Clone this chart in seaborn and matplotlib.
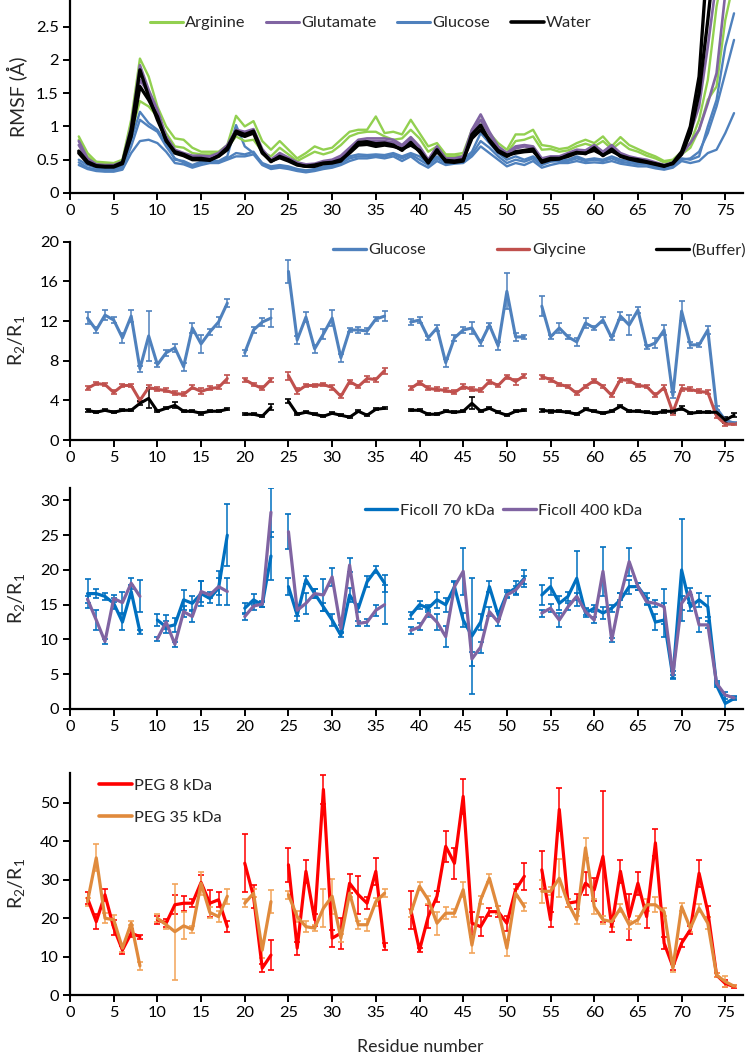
import numpy as np
import pandas as pd
import matplotlib
matplotlib.use('Agg')
import matplotlib.pyplot as plt
import seaborn as sns
from matplotlib.lines import Line2D

residues = list(range(1, 77))
N = None

# ---- panel 1: RMSF from simulations (two or three runs per cosolute)
water_a = [0.63, 0.47, 0.41, 0.40, 0.40, 0.46, 0.95, 1.85, 1.45, 1.10,
           0.80, 0.60, 0.56, 0.50, 0.50, 0.49, 0.56, 0.68, 0.93, 0.88,
           0.93, 0.62, 0.47, 0.55, 0.50, 0.43, 0.40, 0.40, 0.44, 0.45,
           0.48, 0.62, 0.76, 0.77, 0.74, 0.75, 0.72, 0.64, 0.76, 0.62,
           0.45, 0.65, 0.47, 0.46, 0.48, 0.88, 1.02, 0.78, 0.62, 0.55,
           0.62, 0.64, 0.66, 0.46, 0.50, 0.51, 0.57, 0.61, 0.59, 0.68,
           0.56, 0.66, 0.55, 0.51, 0.48, 0.46, 0.43, 0.40, 0.45, 0.62,
           1.00, 1.75, 3.60, 4.50, 5.00, 5.50]
water_b = [0.60, 0.45, 0.40, 0.39, 0.39, 0.44, 0.85, 1.60, 1.40, 1.15,
           0.78, 0.62, 0.58, 0.52, 0.52, 0.50, 0.55, 0.65, 0.90, 0.85,
           0.90, 0.60, 0.48, 0.53, 0.48, 0.42, 0.40, 0.42, 0.45, 0.46,
           0.50, 0.60, 0.72, 0.73, 0.70, 0.72, 0.70, 0.66, 0.72, 0.64,
           0.47, 0.62, 0.49, 0.48, 0.50, 0.82, 0.95, 0.80, 0.64, 0.57,
           0.60, 0.62, 0.63, 0.48, 0.52, 0.52, 0.55, 0.60, 0.60, 0.64,
           0.57, 0.63, 0.56, 0.52, 0.50, 0.47, 0.44, 0.41, 0.44, 0.58,
           0.90, 1.50, 2.60, 3.80, 4.50, 5.00]
arg_a = [0.85, 0.60, 0.47, 0.46, 0.45, 0.50, 1.10, 2.02, 1.75, 1.30,
         1.00, 0.82, 0.80, 0.68, 0.62, 0.62, 0.62, 0.72, 1.16, 1.00,
         1.08, 0.78, 0.65, 0.78, 0.65, 0.52, 0.60, 0.70, 0.65, 0.68,
         0.80, 0.92, 0.95, 0.95, 1.15, 0.90, 0.92, 0.88, 1.10, 0.90,
         0.70, 0.75, 0.58, 0.58, 0.60, 0.95, 1.10, 0.90, 0.75, 0.65,
         0.88, 0.88, 0.95, 0.72, 0.70, 0.66, 0.68, 0.75, 0.80, 0.75,
         0.85, 0.70, 0.84, 0.72, 0.66, 0.60, 0.55, 0.48, 0.50, 0.62,
         0.75, 1.10, 1.70, 2.80, 3.50, 4.00]
arg_b = [0.80, 0.55, 0.45, 0.44, 0.44, 0.48, 0.90, 1.38, 1.30, 1.15,
         0.90, 0.70, 0.68, 0.60, 0.58, 0.58, 0.60, 0.68, 0.85, 0.78,
         0.80, 0.62, 0.55, 0.68, 0.58, 0.48, 0.55, 0.62, 0.58, 0.62,
         0.72, 0.85, 0.90, 0.92, 0.92, 0.85, 0.80, 0.82, 0.95, 0.82,
         0.62, 0.70, 0.55, 0.55, 0.56, 0.85, 1.00, 0.82, 0.68, 0.60,
         0.78, 0.80, 0.85, 0.65, 0.66, 0.62, 0.64, 0.70, 0.74, 0.70,
         0.78, 0.66, 0.76, 0.66, 0.62, 0.56, 0.52, 0.46, 0.48, 0.58,
         0.68, 0.95, 1.40, 1.60, 2.60, 3.20]
glu_a = [0.78, 0.52, 0.43, 0.42, 0.42, 0.47, 1.00, 1.92, 1.55, 1.25,
         0.85, 0.65, 0.60, 0.56, 0.56, 0.55, 0.60, 0.72, 0.95, 0.92,
         0.96, 0.66, 0.50, 0.60, 0.53, 0.46, 0.43, 0.44, 0.48, 0.50,
         0.56, 0.68, 0.80, 0.82, 0.82, 0.82, 0.80, 0.72, 0.84, 0.70,
         0.50, 0.70, 0.52, 0.52, 0.55, 0.95, 1.18, 0.92, 0.70, 0.60,
         0.70, 0.72, 0.70, 0.52, 0.55, 0.55, 0.60, 0.65, 0.64, 0.72,
         0.62, 0.72, 0.60, 0.55, 0.52, 0.50, 0.46, 0.42, 0.46, 0.62,
         0.90, 1.30, 2.20, 3.20, 4.00, 4.80]
glu_b = [0.72, 0.50, 0.42, 0.41, 0.41, 0.45, 0.90, 1.70, 1.50, 1.20,
         0.82, 0.62, 0.58, 0.54, 0.54, 0.53, 0.58, 0.70, 0.90, 0.88,
         0.90, 0.63, 0.49, 0.58, 0.51, 0.45, 0.42, 0.43, 0.46, 0.48,
         0.54, 0.65, 0.76, 0.78, 0.78, 0.78, 0.76, 0.70, 0.80, 0.68,
         0.48, 0.68, 0.50, 0.50, 0.53, 0.90, 1.10, 0.88, 0.68, 0.58,
         0.67, 0.70, 0.68, 0.50, 0.53, 0.53, 0.58, 0.62, 0.62, 0.70,
         0.60, 0.70, 0.58, 0.53, 0.50, 0.48, 0.45, 0.41, 0.45, 0.58,
         0.75, 0.95, 1.35, 1.80, 3.00, 3.80]
glc_a = [0.50, 0.42, 0.38, 0.36, 0.36, 0.40, 0.80, 1.22, 1.05, 0.95,
         0.75, 0.50, 0.48, 0.42, 0.47, 0.50, 0.48, 0.55, 1.02, 0.70,
         0.60, 0.45, 0.40, 0.42, 0.40, 0.36, 0.34, 0.36, 0.40, 0.42,
         0.48, 0.55, 0.58, 0.57, 0.58, 0.57, 0.60, 0.55, 0.60, 0.55,
         0.45, 0.55, 0.47, 0.50, 0.50, 0.62, 0.90, 0.75, 0.60, 0.50,
         0.55, 0.50, 0.55, 0.45, 0.50, 0.52, 0.50, 0.55, 0.50, 0.52,
         0.50, 0.55, 0.50, 0.48, 0.45, 0.45, 0.40, 0.38, 0.40, 0.52,
         0.50, 0.55, 1.00, 1.40, 2.20, 2.70]
glc_b = [0.42, 0.36, 0.33, 0.32, 0.32, 0.35, 0.60, 0.78, 0.80, 0.75,
         0.62, 0.45, 0.43, 0.38, 0.42, 0.45, 0.45, 0.50, 0.55, 0.55,
         0.58, 0.42, 0.36, 0.38, 0.36, 0.33, 0.31, 0.33, 0.36, 0.38,
         0.42, 0.48, 0.52, 0.52, 0.54, 0.52, 0.55, 0.48, 0.55, 0.45,
         0.38, 0.48, 0.42, 0.44, 0.45, 0.55, 0.70, 0.60, 0.50, 0.40,
         0.45, 0.42, 0.48, 0.38, 0.42, 0.45, 0.45, 0.48, 0.45, 0.46,
         0.45, 0.48, 0.44, 0.42, 0.40, 0.40, 0.37, 0.35, 0.38, 0.48,
         0.45, 0.48, 0.60, 0.65, 0.90, 1.20]
glc_c = [0.46, 0.38, 0.35, 0.34, 0.34, 0.38, 0.70, 1.10, 1.00, 0.92,
         0.70, 0.52, 0.46, 0.40, 0.45, 0.48, 0.46, 0.52, 0.60, 0.58,
         0.62, 0.44, 0.38, 0.40, 0.38, 0.34, 0.33, 0.35, 0.38, 0.40,
         0.45, 0.52, 0.55, 0.55, 0.56, 0.55, 0.58, 0.52, 0.58, 0.50,
         0.42, 0.52, 0.45, 0.47, 0.48, 0.58, 0.78, 0.68, 0.55, 0.45,
         0.50, 0.47, 0.52, 0.42, 0.47, 0.48, 0.48, 0.52, 0.48, 0.50,
         0.48, 0.52, 0.47, 0.45, 0.43, 0.43, 0.39, 0.37, 0.40, 0.50,
         0.52, 0.62, 0.90, 1.30, 1.80, 2.30]

# ---- panel 2: R2/R1, small cosolutes
glucose = [N, 12.3, 11.1, 12.6, 12.1, 10.3, 12.5, 7.2, 10.5, 7.6,
           8.8, 9.3, 7.4, 11.3, 9.7, 10.9, 11.9, 13.8, N, 8.8,
           11.1, 11.9, 12.3, N, 17.0, 10.1, 12.4, 9.2, 10.7, 12.3,
           8.3, 11.1, 11.1, 11.0, 12.2, 12.5, N, N, 11.9, 12.1,
           10.3, 11.3, 7.8, 10.3, 11.1, 11.3, 9.8, 11.6, 9.5, 15.0,
           10.4, 10.4, N, 13.5, 10.4, 11.3, 10.4, 9.9, 11.8, 11.3,
           12.1, 10.3, 12.5, 11.6, 13.1, 9.4, 9.8, 11.1, 4.5, 13.0,
           9.6, 9.6, 11.1, 3.2, 2.0, 1.7]
glucose_err = [N, 0.6, 0.3, 0.5, 0.3, 0.5, 0.6, 0.3, 2.5, 0.2,
               0.3, 0.4, 0.4, 0.5, 0.9, 0.3, 0.5, 0.4, N, 0.3,
               0.3, 0.4, 0.9, N, 1.2, 0.4, 0.5, 0.4, 0.5, 0.8,
               0.4, 0.2, 0.3, 0.3, 0.2, 0.5, N, N, 0.3, 0.3,
               0.2, 0.3, 0.4, 0.3, 0.3, 0.6, 0.3, 0.2, 0.4, 1.8,
               0.4, 0.2, N, 1.0, 0.2, 0.5, 0.2, 0.4, 0.5, 0.2,
               0.3, 0.2, 0.4, 1.0, 0.3, 0.2, 0.5, 0.5, 0.3, 1.0,
               0.3, 0.2, 0.4, 0.2, 0.2, 0.1]
glycine = [N, 5.2, 5.7, 5.6, 4.8, 5.5, 5.5, 4.0, 5.3, 5.1,
           5.0, 4.7, 4.6, 5.3, 4.9, 5.2, 5.3, 6.2, N, 6.1,
           5.6, 5.2, 6.1, N, 6.5, 4.9, 5.5, 5.5, 5.6, 5.3,
           4.4, 5.9, 5.4, 6.2, 6.1, 7.0, N, N, 5.2, 5.8,
           5.2, 5.1, 5.0, 4.8, 5.4, 5.1, 5.0, 5.9, 5.5, 6.4,
           5.9, 6.5, N, 6.4, 6.1, 5.6, 5.4, 4.7, 5.4, 6.0,
           5.4, 4.5, 6.1, 6.0, 5.5, 5.4, 4.5, 5.3, 2.8, 5.2,
           5.1, 4.9, 4.8, 2.4, 1.6, 1.6]
glycine_err = [N, 0.2, 0.2, 0.2, 0.2, 0.2, 0.2, 0.2, 0.2, 0.2,
               0.2, 0.2, 0.2, 0.2, 0.3, 0.2, 0.2, 0.4, N, 0.2,
               0.2, 0.2, 0.2, N, 0.4, 0.3, 0.2, 0.2, 0.2, 0.3,
               0.2, 0.2, 0.2, 0.3, 0.2, 0.3, N, N, 0.2, 0.2,
               0.2, 0.2, 0.2, 0.2, 0.3, 0.2, 0.2, 0.2, 0.2, 0.2,
               0.3, 0.2, N, 0.2, 0.2, 0.2, 0.2, 0.2, 0.2, 0.2,
               0.2, 0.2, 0.2, 0.2, 0.2, 0.2, 0.2, 0.3, 0.3, 0.3,
               0.2, 0.2, 0.2, 0.2, 0.2, 0.1]
buffer = [N, 3.0, 2.8, 3.0, 2.8, 3.0, 3.0, 3.7, 4.2, 2.9,
          3.2, 3.5, 2.9, 2.9, 2.7, 2.9, 2.9, 3.1, N, 2.6,
          2.6, 2.4, 3.3, N, 3.9, 2.6, 2.8, 2.6, 2.4, 2.7,
          2.5, 2.3, 2.9, 2.5, 3.1, 3.2, N, N, 3.0, 3.0,
          2.6, 2.6, 2.9, 2.8, 2.9, 3.7, 2.9, 3.2, 2.8, 2.5,
          2.9, 3.0, N, 3.0, 2.9, 2.9, 2.8, 2.6, 3.1, 2.9,
          2.7, 2.9, 3.4, 2.9, 2.9, 2.8, 2.7, 2.9, 2.9, 3.2,
          2.7, 2.8, 2.8, 2.8, 2.0, 2.5]
buffer_err = [N, 0.15, 0.1, 0.1, 0.1, 0.1, 0.1, 0.2, 1.0, 0.1,
              0.1, 0.3, 0.1, 0.1, 0.15, 0.1, 0.1, 0.1, N, 0.1,
              0.1, 0.1, 0.3, N, 0.2, 0.1, 0.1, 0.1, 0.1, 0.1,
              0.1, 0.1, 0.1, 0.1, 0.1, 0.1, N, N, 0.1, 0.1,
              0.1, 0.1, 0.1, 0.1, 0.1, 0.6, 0.1, 0.1, 0.1, 0.1,
              0.1, 0.1, N, 0.15, 0.15, 0.1, 0.1, 0.1, 0.1, 0.1,
              0.1, 0.1, 0.1, 0.1, 0.1, 0.1, 0.1, 0.15, 0.15, 0.2,
              0.1, 0.1, 0.1, 0.1, 0.3, 0.2]

# ---- panel 3: Ficoll crowders
ficoll70 = [N, 16.6, 16.6, 16.2, 15.2, 12.5, 16.9, 11.1, N, 12.8,
            11.8, 12.1, 15.7, 15.2, 16.6, 15.9, 17.4, 25.0, N, 14.5,
            15.7, 15.0, 22.0, N, 17.6, 13.5, 18.6, 16.6, 14.7, 12.8,
            10.6, 16.4, 14.5, 18.3, 20.0, 18.1, N, N, 13.5, 15.0,
            14.5, 15.7, 15.0, 17.6, 12.8, 10.5, 12.5, 17.6, 13.5, 16.6,
            17.4, 18.8, N, 16.4, 17.6, 15.2, 16.2, 18.8, 13.8, 14.5,
            13.8, 14.5, 15.7, 17.6, 17.6, 15.9, 12.5, 12.8, 4.6, 20.0,
            14.7, 15.7, 14.7, 3.4, 0.8, 1.5]
ficoll70_err = [N, 2.1, 0.6, 0.5, 0.8, 1.2, 0.9, 0.3, N, 0.8,
                0.8, 1.0, 1.4, 1.0, 1.8, 0.6, 2.5, 4.5, N, 0.8,
                0.8, 0.4, 3.5, N, 1.2, 0.8, 0.6, 0.6, 0.6, 0.8,
                0.3, 1.0, 0.6, 0.8, 0.5, 1.2, N, N, 0.5, 0.6,
                0.5, 1.2, 1.0, 0.8, 1.0, 8.3, 1.2, 0.8, 0.6, 0.5,
                1.0, 1.2, N, 1.4, 1.2, 1.0, 0.6, 4.0, 0.6, 0.5,
                0.8, 0.5, 1.0, 1.0, 0.5, 0.8, 1.2, 2.5, 0.3, 7.4,
                0.6, 1.0, 1.5, 0.3, 1.2, 0.2]
ficoll400 = [N, 15.8, 12.8, 9.7, 15.9, 15.3, 18.1, 16.2, N, 10.1,
             12.5, 9.3, 14.0, 13.3, 16.9, 16.4, 17.6, 16.9, N, 13.3,
             14.8, 15.1, 28.3, N, 25.5, 14.2, 15.2, 16.6, 16.4, 19.0,
             11.6, 20.7, 12.3, 12.5, 14.2, 15.0, N, N, 11.3, 11.8,
             13.8, 12.5, 10.4, 17.6, 19.8, 7.2, 8.9, 14.0, 12.5, 16.4,
             17.1, 18.6, N, 13.8, 14.5, 12.8, 14.7, 16.2, 14.0, 12.8,
             19.8, 9.9, 16.2, 21.2, 17.6, 15.4, 15.2, 14.7, 4.9, 15.2,
             16.9, 12.1, 12.1, 3.7, 2.0, 1.6]
ficoll400_err = [N, 0.5, 1.5, 0.4, 0.5, 1.5, 0.8, 2.3, N, 0.3,
                 1.0, 0.4, 0.8, 0.8, 1.5, 0.5, 1.2, 2.0, N, 0.5,
                 0.5, 0.4, 3.5, N, 2.5, 0.8, 1.5, 0.6, 2.3, 1.3,
                 0.5, 1.0, 0.3, 0.5, 0.8, 2.8, N, N, 0.5, 0.5,
                 0.5, 1.2, 1.5, 0.6, 3.4, 1.0, 0.8, 0.6, 0.5, 0.5,
                 0.6, 0.6, N, 0.5, 0.6, 1.0, 0.5, 0.5, 0.5, 0.5,
                 3.5, 0.3, 0.5, 2.0, 0.5, 0.5, 0.5, 2.5, 0.5, 1.0,
                 0.5, 1.0, 0.5, 0.3, 0.5, 0.2]

# ---- panel 4: PEG crowders
peg8 = [N, 25.2, 19.1, 26.1, 17.5, 11.7, 16.1, 15.2, N, 19.6,
        18.7, 23.5, 23.9, 23.9, 29.3, 23.9, 24.8, 17.8, N, 34.3,
        25.7, 7.0, 10.4, N, 33.9, 12.2, 32.2, 19.6, 53.5, 14.8,
        16.1, 29.1, 26.1, 23.9, 32.2, 12.6, N, N, 22.2, 11.7,
        20.4, 25.7, 38.7, 34.3, 51.7, 18.7, 17.8, 21.7, 21.7, 18.7,
        27.4, 30.9, N, 32.6, 19.6, 48.3, 23.9, 24.3, 29.1, 27.4,
        36.1, 17.8, 32.2, 20.4, 29.1, 20.4, 39.6, 13.5, 7.4, 13.5,
        17.0, 31.7, 21.7, 5.2, 3.0, 2.2]
peg8_err = [N, 1.5, 2.0, 1.5, 2.0, 1.0, 1.0, 0.5, N, 1.0,
            1.0, 2.5, 2.0, 1.0, 2.0, 3.5, 2.0, 1.5, N, 7.5,
            3.0, 1.0, 4.0, N, 4.5, 1.7, 3.0, 1.5, 3.7, 2.2,
            4.0, 2.5, 5.0, 1.5, 3.5, 1.0, N, N, 5.0, 0.5,
            3.0, 1.5, 4.0, 4.0, 4.5, 3.0, 2.5, 1.0, 1.5, 2.0,
            1.5, 3.5, N, 5.0, 2.0, 5.5, 1.0, 2.0, 3.0, 3.0,
            17.0, 1.5, 3.0, 6.0, 3.0, 3.0, 3.5, 1.5, 1.0, 1.0,
            1.0, 3.5, 1.5, 0.5, 0.8, 0.3]
peg35 = [N, 24.3, 35.7, 20.0, 19.6, 12.2, 18.7, 7.6, N, 20.0,
         18.3, 16.5, 18.0, 17.1, 29.1, 21.5, 20.4, 25.7, N, 23.9,
         26.5, 11.7, 24.3, N, 26.1, 20.4, 17.8, 17.4, 22.6, 25.7,
         14.8, 26.5, 18.3, 18.3, 24.3, 26.5, N, N, 21.3, 28.3,
         24.8, 18.7, 21.3, 21.3, 27.4, 13.0, 24.8, 30.4, 22.2, 12.2,
         26.5, 23.0, N, 27.0, 27.0, 30.4, 23.9, 19.6, 38.3, 23.0,
         19.6, 19.1, 22.6, 18.3, 19.6, 23.5, 23.5, 21.7, 7.0, 23.0,
         17.4, 22.6, 18.7, 5.2, 3.5, 2.3]
peg35_err = [N, 1.0, 3.5, 1.3, 1.3, 1.0, 0.5, 1.0, N, 1.0,
             1.0, 12.5, 3.5, 1.0, 3.0, 1.5, 1.5, 2.0, N, 1.0,
             1.0, 2.0, 3.0, N, 1.0, 1.5, 1.5, 0.8, 5.0, 4.5,
             1.0, 1.0, 1.0, 1.5, 1.0, 1.0, N, N, 1.0, 1.0,
             1.0, 3.0, 1.5, 1.0, 2.0, 2.0, 1.0, 1.0, 1.0, 2.0,
             1.0, 1.0, N, 3.0, 1.0, 5.0, 1.0, 1.0, 2.5, 2.0,
             1.0, 1.5, 1.0, 1.0, 1.0, 1.5, 2.0, 1.0, 1.0, 1.0,
             1.0, 1.0, 1.5, 0.5, 1.5, 0.3]


sns.set_theme(style='ticks')
plt.rcParams['font.family'] = ['Lato', 'DejaVu Sans']
plt.rcParams['mathtext.default'] = 'regular'


# one row per residue, split into segments where a residue is missing
def make_frame(vals, errs=None):
    rows = []
    seg = 0
    for i, v in enumerate(vals):
        if v is None:
            seg += 1
            continue
        e = errs[i] if errs is not None else 0.0
        rows.append({'residue': residues[i], 'value': v, 'err': e, 'seg': seg})
    return pd.DataFrame(rows)


def draw_series(ax, vals, errs, color, lw, ecolor=None):
    df = make_frame(vals, errs)
    if errs is not None:
        ax.errorbar(df['residue'], df['value'], yerr=df['err'], fmt='none',
                    ecolor=ecolor or color, elinewidth=1.1, capsize=2.5,
                    capthick=1.2, zorder=2)
    sns.lineplot(data=df, x='residue', y='value', units='seg', estimator=None,
                 color=color, linewidth=lw, ax=ax, legend=False, zorder=3)


def style_axis(ax, ymax, yticks, ylabels, ylabel):
    ax.set_xlim(0, 77)
    ax.set_ylim(0, ymax)
    ax.set_xticks(range(0, 76, 5))
    ax.set_yticks(yticks)
    ax.set_yticklabels(ylabels)
    ax.set_xlabel('')
    ax.set_ylabel(ylabel, fontsize=14)
    ax.yaxis.set_label_coords(-0.064, 0.5)
    sns.despine(ax=ax)
    for s in ['left', 'bottom']:
        ax.spines[s].set_linewidth(1.6)
        ax.spines[s].set_color('black')
    ax.tick_params(direction='out', length=5, width=1.4, labelsize=11.8,
                   colors='black', pad=3)


fig = plt.figure(figsize=(7.45, 10.58), dpi=100)
L, W = 0.094, 0.903
ax1 = fig.add_axes([L, 0.8176, W, 0.1824])
ax2 = fig.add_axes([L, 0.5841, W, 0.1874])
ax3 = fig.add_axes([L, 0.3299, W, 0.2089])
ax4 = fig.add_axes([L, 0.0595, W, 0.2099])

# Panel 1
c_arg, c_glu, c_glc = '#92D050', '#8064A2', '#4F81BD'
for line in [glc_a, glc_b, glc_c]:
    draw_series(ax1, line, None, c_glc, 1.7)
for line in [arg_a, arg_b]:
    draw_series(ax1, line, None, c_arg, 1.7)
for line in [glu_a, glu_b]:
    draw_series(ax1, line, None, c_glu, 1.9)
for line in [water_a, water_b]:
    draw_series(ax1, line, None, 'black', 2.4)
style_axis(ax1, 2.9, [0, 0.5, 1, 1.5, 2, 2.5], ['0', '0.5', '1', '1.5', '2', '2.5'], 'RMSF (Å)')
h1 = [Line2D([], [], color=c, lw=w) for c, w in
      [(c_arg, 2.2), (c_glu, 2.2), (c_glc, 2.2), ('black', 2.6)]]
ax1.legend(h1, ['Arginine', 'Glutamate', 'Glucose', 'Water'], ncol=4, frameon=False,
           loc='center left', bbox_to_anchor=(0.119, 0.88), fontsize=11.8,
           handlelength=2.0, handletextpad=0.15, columnspacing=1.25,
           borderpad=0, borderaxespad=0)

# Panel 2
draw_series(ax2, glucose, glucose_err, c_glc, 2.2)
draw_series(ax2, glycine, glycine_err, '#C0504D', 2.2)
draw_series(ax2, buffer, buffer_err, 'black', 2.2)
style_axis(ax2, 20, [0, 4, 8, 12, 16, 20], ['0', '4', '8', '12', '16', '20'], 'R$_2$/R$_1$')
h2 = [Line2D([], [], color=c, lw=2.4) for c in [c_glc, '#C0504D', 'black']]
ax2.legend(h2, ['Glucose', 'Glycine', '(Buffer)'], ncol=3, frameon=False,
           loc='center left', bbox_to_anchor=(0.391, 0.958), fontsize=11.8,
           handlelength=2.0, handletextpad=0.15, columnspacing=4.3,
           borderpad=0, borderaxespad=0)

# Panel 3
c_f70, c_f400 = '#0070C0', '#8064A2'
draw_series(ax3, ficoll70, ficoll70_err, c_f70, 2.3)
draw_series(ax3, ficoll400, ficoll400_err, c_f400, 2.3, ecolor=c_f70)
style_axis(ax3, 31.8, [0, 5, 10, 15, 20, 25, 30], ['0', '5', '10', '15', '20', '25', '30'], 'R$_2$/R$_1$')
h3 = [Line2D([], [], color=c, lw=2.4) for c in [c_f70, c_f400]]
ax3.legend(h3, ['Ficoll 70 kDa', 'Ficoll 400 kDa'], ncol=2, frameon=False,
           loc='center left', bbox_to_anchor=(0.438, 0.897), fontsize=11.8,
           handlelength=2.0, handletextpad=0.15, columnspacing=0.5,
           borderpad=0, borderaxespad=0)

# Panel 4
c_p8, c_p35 = '#FF0000', '#E08A3C'
draw_series(ax4, peg8, peg8_err, c_p8, 2.3)
draw_series(ax4, peg35, peg35_err, c_p35, 2.3, ecolor='#F2A45A')
style_axis(ax4, 57.8, [0, 10, 20, 30, 40, 50], ['0', '10', '20', '30', '40', '50'], 'R$_2$/R$_1$')
ax4.set_xlabel('Residue number', fontsize=12.8)
ax4.xaxis.set_label_coords(0.52, -0.2)
h4 = [Line2D([], [], color=c, lw=2.6) for c in [c_p8, c_p35]]
ax4.legend(h4, ['PEG 8 kDa', 'PEG 35 kDa'], ncol=1, frameon=False,
           loc='center left', bbox_to_anchor=(0.043, 0.871), fontsize=11.8,
           handlelength=2.0, handletextpad=0.15, labelspacing=1.05,
           borderpad=0, borderaxespad=0)

fig.savefig('out.png', dpi=100)
